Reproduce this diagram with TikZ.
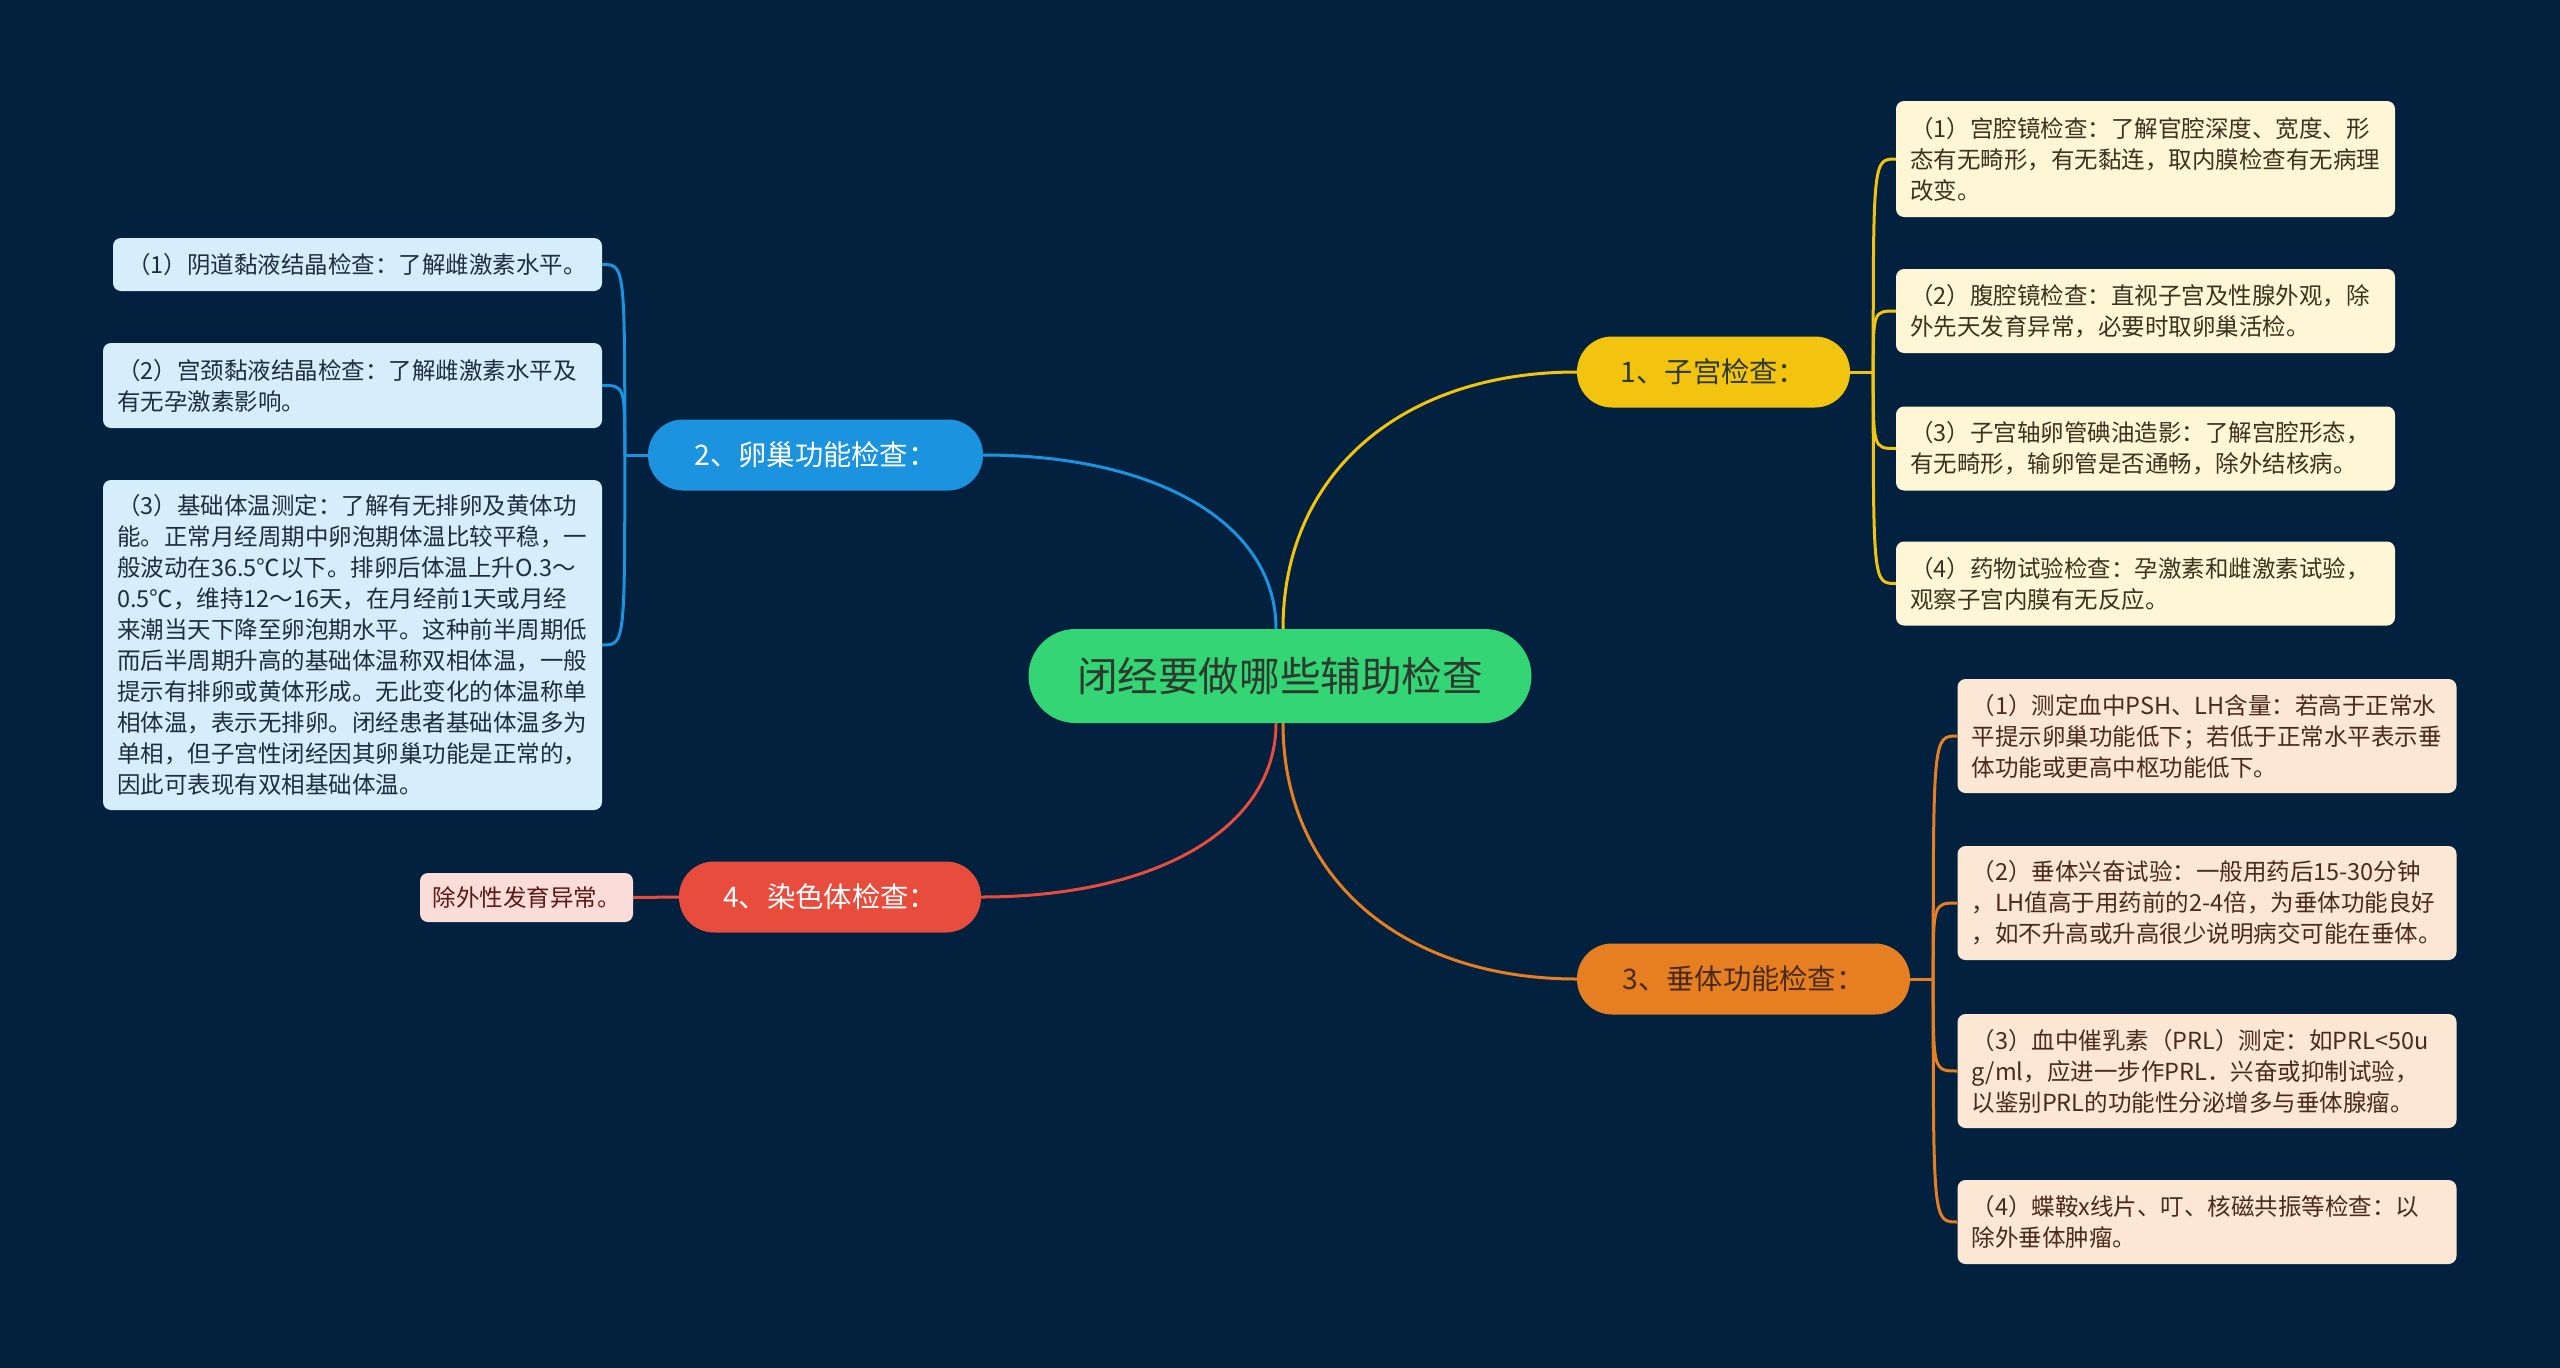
\documentclass[tikz,border=0pt]{standalone}
\usepackage{fontspec}
\setmainfont{Noto Sans CJK SC}
\usetikzlibrary{calc}
\definecolor{bg}{HTML}{02213F}
\definecolor{cgreen}{HTML}{33D575}
\definecolor{cyellow}{HTML}{F2C40F}
\definecolor{cblue}{HTML}{1B93DE}
\definecolor{corange}{HTML}{E67E22}
\definecolor{cred}{HTML}{E74C3C}
\definecolor{lyellow}{HTML}{FEF6D5}
\definecolor{lblue}{HTML}{D6EEFA}
\definecolor{lorange}{HTML}{FCE6D4}
\definecolor{lred}{HTML}{FADCD9}
\definecolor{tdark}{HTML}{2E3A2E}
\definecolor{tyellow}{HTML}{3B3320}
\definecolor{tblue}{HTML}{1F2E3F}
\definecolor{torange}{HTML}{4A2A18}
\definecolor{tred}{HTML}{5B1A15}
\newcommand\lffont{\fontsize{23.5}{31}\selectfont}
\newcommand\brfont{\fontsize{28.3}{34}\selectfont}
\newcommand\ctfont{\fontsize{40.6}{48}\selectfont}
\tikzset{
  leafbox/.style={rounded corners=8pt, inner xsep=14pt, inner ysep=0pt,
    text width=471pt, align=left, font=\lffont, anchor=center},
  lfY/.style={leafbox, fill=lyellow, text=tyellow},
  lfB/.style={leafbox, fill=lblue, text=tblue},
  lfO/.style={leafbox, fill=lorange, text=torange},
  lfR/.style={rounded corners=8pt, inner xsep=12pt, inner ysep=0pt, font=\lffont,
    fill=lred, text=tred, minimum height=49pt, minimum width=213pt},
  branchbox/.style={rounded corners=35pt, minimum height=71pt, inner sep=0pt, font=\brfont},
  rootbox/.style={rounded corners=47pt, minimum height=94pt, minimum width=503pt,
    inner sep=0pt, font=\ctfont, fill=cgreen, text=tdark},
  lnk/.style={line width=3pt},
}
\begin{document}
\begin{tikzpicture}[x=1pt,y=-1pt]
\useasboundingbox (0,0) rectangle (2560,1368);
\fill[bg] (0,0) rectangle (2560,1368);

% root
\node[rootbox] (c) at (1280,676) {闭经要做哪些辅助检查};

% branches
\node[branchbox, fill=cyellow, text=tdark, minimum width=273pt] (b1) at (1713.5,372) {1、子宫检查：};
\node[branchbox, fill=cblue, text=white, minimum width=335pt] (b2) at (815.5,455) {2、卵巢功能检查：};
\node[branchbox, fill=corange, text=torange, minimum width=333pt] (b3) at (1743.5,979) {3、垂体功能检查：};
\node[branchbox, fill=cred, text=white, minimum width=302pt] (b4) at (830,897) {4、染色体检查：};

% yellow leaves
\node[lfY, minimum height=116pt] (y1) at (2145.5,159) {（1）宫腔镜检查：了解官腔深度、宽度、形\\态有无畸形，有无黏连，取内膜检查有无病理\\改变。};
\node[lfY, minimum height=84pt] (y2) at (2145.5,311) {（2）腹腔镜检查：直视子宫及性腺外观，除\\外先天发育异常，必要时取卵巢活检。};
\node[lfY, minimum height=84pt] (y3) at (2145.5,448.5) {（3）子宫轴卵管碘油造影：了解宫腔形态，\\有无畸形，输卵管是否通畅，除外结核病。};
\node[lfY, minimum height=84pt] (y4) at (2145.5,583.5) {（4）药物试验检查：孕激素和雌激素试验，\\观察子宫内膜有无反应。};

% blue leaves
\node[lfB, minimum height=53pt, text width=461pt] (l1) at (357.5,264.5) {（1）阴道黏液结晶检查：了解雌激素水平。};
\node[lfB, minimum height=85pt] (l2) at (352.5,385.5) {（2）宫颈黏液结晶检查：了解雌激素水平及\\有无孕激素影响。};
\node[lfB, minimum height=330pt] (l3) at (352.5,645) {（3）基础体温测定：了解有无排卵及黄体功\\能。正常月经周期中卵泡期体温比较平稳，一\\般波动在36.5℃以下。排卵后体温上升O.3～\\0.5℃，维持12～16天，在月经前1天或月经\\来潮当天下降至卵泡期水平。这种前半周期低\\而后半周期升高的基础体温称双相体温，一般\\提示有排卵或黄体形成。无此变化的体温称单\\相体温，表示无排卵。闭经患者基础体温多为\\单相，但子宫性闭经因其卵巢功能是正常的，\\因此可表现有双相基础体温。};

% orange leaves
\node[lfO, minimum height=114pt] (o1) at (2207,736) {（1）测定血中PSH、LH含量：若高于正常水\\平提示卵巢功能低下；若低于正常水平表示垂\\体功能或更高中枢功能低下。};
\node[lfO, minimum height=114pt] (o2) at (2207,903) {（2）垂体兴奋试验：一般用药后15-30分钟\\，LH值高于用药前的2-4倍，为垂体功能良好\\，如不升高或升高很少说明病交可能在垂体。};
\node[lfO, minimum height=114pt] (o3) at (2207,1071) {（3）血中催乳素（PRL）测定：如PRL<50u\\g/ml，应进一步作PRL．兴奋或抑制试验，\\以鉴别PRL的功能性分泌增多与垂体腺瘤。};
\node[lfO, minimum height=84pt] (o4) at (2207,1222) {（4）蝶鞍x线片、叮、核磁共振等检查：以\\除外垂体肿瘤。};

% red leaf
\node[lfR] (r1) at (526.5,897.5) {除外性发育异常。};

% root -> branches (quarter-ellipse-like cubic curves)
\coordinate (cy) at ($(c.north)+(3,0)$);
\coordinate (cb) at ($(c.north)+(-4,0)$);
\coordinate (co) at ($(c.south)+(3,0)$);
\coordinate (cr) at ($(c.south)+(-4,0)$);
\draw[lnk, cyellow] (cy) .. controls ($(cy)!0.6!(cy |- b1.west)$) and ($(b1.west)!0.6!(cy |- b1.west)$) .. (b1.west);
\draw[lnk, cblue] (cb) .. controls ($(cb)!0.6!(cb |- b2.east)$) and ($(b2.east)!0.6!(cb |- b2.east)$) .. (b2.east);
\draw[lnk, corange] (co) .. controls ($(co)!0.6!(co |- b3.west)$) and ($(b3.west)!0.6!(co |- b3.west)$) .. (b3.west);
\draw[lnk, cred] (cr) .. controls ($(cr)!0.6!(cr |- b4.east)$) and ($(b4.east)!0.6!(cr |- b4.east)$) .. (b4.east);

% yellow group
\coordinate (j1) at ($(b1.east)+(23,0)$);
\draw[lnk, cyellow] (b1.east) -- (j1);
\foreach \n in {y1,y2,y3,y4}
  \draw[lnk, cyellow] (j1) .. controls (j1 |- \n.west) .. (\n.west);

% blue group
\coordinate (j2) at ($(b2.west)+(-23,0)$);
\draw[lnk, cblue] (b2.west) -- (j2);
\foreach \n in {l1,l2,l3}
  \draw[lnk, cblue] (j2) .. controls (j2 |- \n.east) .. (\n.east);

% orange group
\coordinate (j3) at ($(b3.east)+(23,0)$);
\draw[lnk, corange] (b3.east) -- (j3);
\foreach \n in {o1,o2,o3,o4}
  \draw[lnk, corange] (j3) .. controls (j3 |- \n.west) .. (\n.west);

% red group
\draw[lnk, cred] (b4.west) -- (r1.east);
\end{tikzpicture}
\end{document}
